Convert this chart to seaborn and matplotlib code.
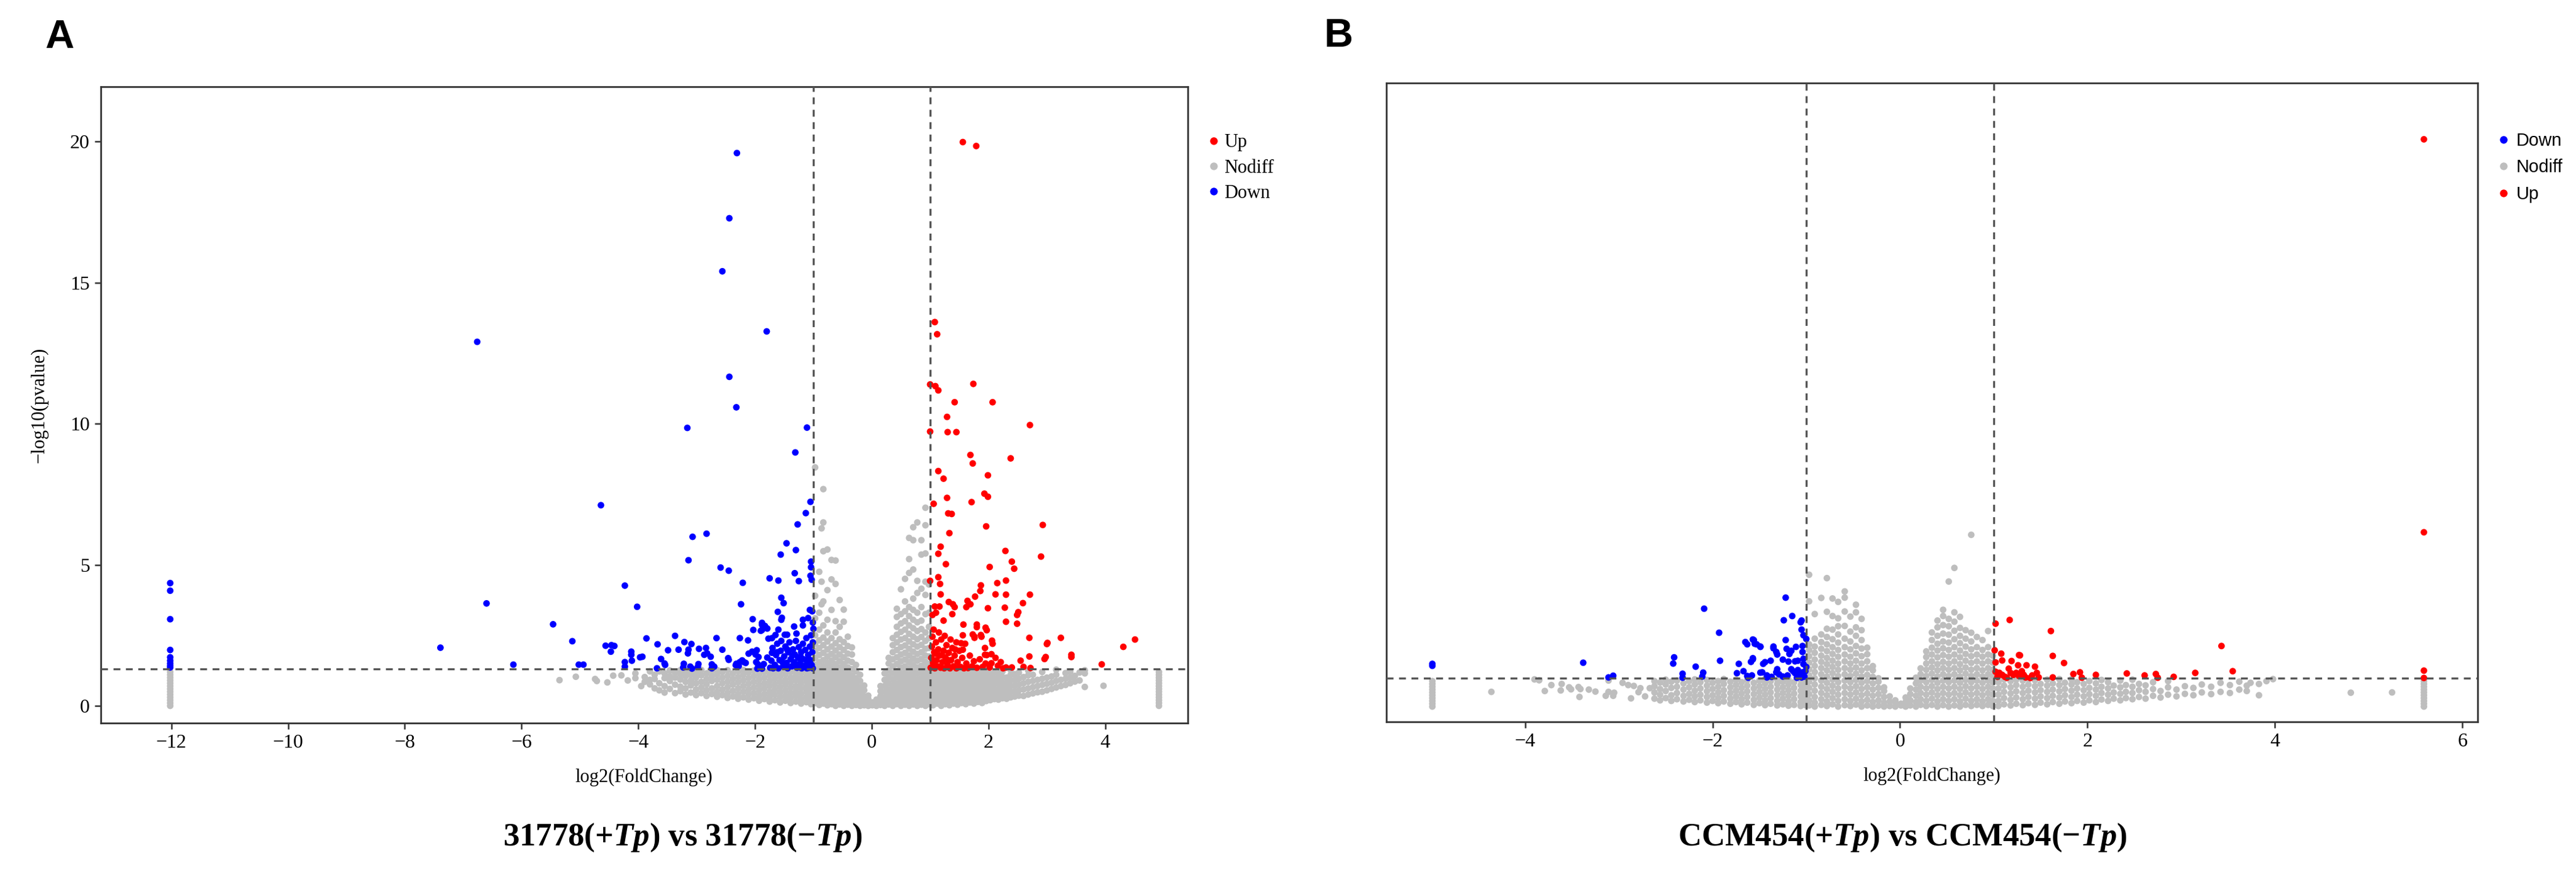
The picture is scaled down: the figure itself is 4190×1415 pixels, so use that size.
import numpy as np
import pandas as pd
import matplotlib
matplotlib.use("Agg")
import matplotlib.pyplot as plt
import seaborn as sns

# ---------------- panel A : 31778(+Tp) vs 31778(-Tp) ----------------
# significant points, (log2FoldChange, -log10 pvalue)
a_up = [
    (1.56, 19.98), (1.79, 19.84), (1.08, 13.6), (1.12, 13.17), (1.0, 11.39), (1.09, 11.33),
    (1.14, 11.18), (1.74, 11.41), (1.42, 10.76), (2.07, 10.76), (1.29, 10.24), (2.71, 9.95),
    (1.0, 9.72), (1.3, 9.7), (1.45, 9.7), (1.69, 8.89), (1.73, 8.59), (2.38, 8.77), (1.14, 8.32),
    (1.23, 8.05), (1.99, 8.17), (1.93, 7.52), (1.99, 7.41), (1.06, 7.16), (1.29, 7.37), (1.71, 7.22),
    (1.31, 6.82), (1.37, 6.8), (2.93, 6.41), (1.96, 6.36), (1.33, 6.12), (1.18, 5.64), (1.14, 5.39),
    (1.27, 5.02), (2.29, 5.49), (2.9, 5.29), (2.4, 5.11), (2.44, 4.86), (2.02, 4.92), (1.14, 4.56),
    (1.17, 4.32), (1.0, 4.43), (1.87, 4.27), (2.15, 4.35), (2.3, 4.44), (2.12, 3.95), (2.3, 3.94),
    (2.71, 3.94), (1.18, 3.95), (1.77, 3.87), (2.59, 3.64), (1.64, 3.72), (1.69, 3.6), (1.32, 3.68),
    (1.39, 3.6), (1.08, 3.52), (1.16, 3.52), (1.99, 3.46), (2.28, 3.48), (2.51, 3.32), (2.49, 3.22),
    (1.04, 3.22), (2.3, 2.98), (2.49, 2.91), (1.57, 2.88), (1.8, 2.88), (1.95, 2.77), (1.73, 2.53),
    (1.76, 2.41), (1.87, 2.51), (2.06, 2.31), (2.7, 2.41), (3.24, 2.41), (3.01, 2.23), (3.0, 2.19),
    (4.51, 2.35), (4.31, 2.09), (3.42, 1.81), (3.42, 1.73), (2.98, 1.73), (2.96, 1.66), (2.7, 1.75),
    (1.94, 1.81), (2.05, 1.83), (2.05, 1.51), (2.16, 1.42), (2.21, 1.55), (2.3, 1.36), (2.4, 1.36),
    (2.72, 1.34), (3.94, 1.47), (1.23, 3.02), (1.42, 3.5), (1.38, 3.25), (1.1, 3.3), (1.62, 3.5),
    (1.86, 4.07), (1.8, 2.79), (1.97, 2.68), (1.76, 2.45), (1.88, 2.45), (1.94, 2.05), (1.97, 1.8),
    (2.07, 2.2), (1.95, 1.5), (1.53, 2.22), (1.56, 1.99),
    (1.01, 1.35), (1.02, 1.7), (1.03, 2.1), (1.04, 2.45), (1.05, 1.52), (1.07, 1.9), (1.08, 1.33),
    (1.1, 2.25), (1.11, 1.62), (1.13, 1.4), (1.14, 2.0), (1.16, 1.78), (1.18, 1.35), (1.19, 2.35),
    (1.21, 1.55), (1.23, 1.95), (1.24, 1.33), (1.26, 1.72), (1.28, 2.15), (1.3, 1.45), (1.32, 1.88),
    (1.34, 1.33), (1.36, 1.62), (1.38, 2.05), (1.4, 1.4), (1.42, 1.78), (1.45, 1.33), (1.47, 1.55),
    (1.5, 1.95), (1.52, 1.38), (1.55, 1.7), (1.58, 1.33), (1.6, 2.2), (1.62, 1.5), (1.65, 1.34),
    (1.68, 1.78), (1.72, 1.4), (1.75, 1.58), (1.8, 1.35), (1.85, 1.65), (1.9, 1.38), (2.02, 1.36),
    (2.12, 1.7), (2.25, 1.33), (2.55, 1.6), (2.6, 1.38), (1.06, 2.7), (1.15, 2.6), (1.25, 2.48),
    (1.35, 2.35), (1.45, 2.25), (1.2, 1.8), (1.09, 1.85), (1.31, 1.62), (1.43, 2.0), (1.56, 2.5),
]
a_down = [
    (-12.02, 4.35), (-12.02, 4.08), (-12.02, 3.07), (-12.02, 1.98), (-12.02, 1.72), (-12.02, 1.6),
    (-12.02, 1.5), (-12.02, 1.42), (-12.02, 1.36), (-7.39, 2.06), (-6.76, 12.9), (-6.6, 3.63),
    (-6.14, 1.46), (-5.46, 2.89), (-5.13, 2.29), (-5.02, 1.46), (-4.94, 1.46), (-4.64, 7.11),
    (-4.56, 2.13), (-4.46, 2.15), (-4.41, 2.12), (-4.47, 1.92), (-4.23, 4.26), (-4.23, 1.55),
    (-4.23, 1.39), (-4.12, 1.92), (-4.12, 1.81), (-4.11, 1.6), (-4.02, 3.51), (-3.97, 1.72),
    (-3.93, 1.74), (-3.86, 2.39), (-3.67, 2.18), (-3.61, 1.66), (-3.55, 1.5), (-3.68, 1.33),
    (-3.49, 1.97), (-3.37, 2.48), (-3.31, 1.99), (-3.21, 2.26), (-3.09, 2.19), (-3.14, 1.99),
    (-3.22, 1.49), (-3.11, 1.39), (-2.96, 2.02), (-2.84, 2.05), (-2.97, 1.48), (-2.82, 1.86),
    (-2.74, 1.47), (-2.7, 1.39), (-2.66, 2.4), (-2.56, 1.99), (-2.46, 1.69), (-2.32, 1.49),
    (-2.26, 2.4), (-2.22, 1.61), (-2.19, 1.55), (-2.12, 2.32), (-2.11, 1.85), (-2.05, 1.92),
    (-1.98, 1.55), (-1.95, 1.47), (-1.89, 1.36), (-3.15, 1.86), (-2.87, 1.81), (-2.76, 1.74),
    (-3.54, 1.45), (-3.23, 1.36), (-3.08, 1.32), (-2.98, 1.38), (-2.74, 1.33), (-2.45, 1.63),
    (-2.33, 1.44), (-2.26, 1.55), (-2.28, 1.41), (-2.16, 1.52), (-1.97, 1.97), (-1.99, 1.82),
    (-1.94, 1.73), (-1.85, 1.48), (-1.96, 1.32), (-1.88, 1.32), (-1.79, 1.71), (-1.71, 1.88),
    (-3.07, 5.99), (-2.83, 6.1), (-3.14, 5.16), (-2.59, 4.9), (-2.45, 4.79), (-2.21, 4.36),
    (-2.24, 3.6), (-2.04, 3.07), (-1.75, 4.52), (-1.6, 4.44), (-1.56, 5.36), (-1.46, 5.76),
    (-1.3, 5.52), (-1.32, 4.7), (-1.25, 4.42), (-1.55, 3.83), (-1.51, 3.64), (-1.61, 3.33),
    (-1.54, 3.12), (-1.31, 8.98), (-1.05, 7.23), (-1.13, 6.83), (-1.27, 6.43), (-1.04, 5.11),
    (-1.04, 4.91), (-1.05, 4.61), (-1.03, 4.47), (-1.88, 2.94), (-1.83, 2.83), (-2.03, 2.69),
    (-1.88, 2.69), (-2.44, 11.66), (-2.32, 10.58), (-3.16, 9.85), (-1.11, 9.86), (-2.31, 19.59),
    (-2.44, 17.28), (-2.56, 15.4), (-1.8, 13.27),
    (-1.88, 2.87), (-1.9, 2.66), (-1.79, 2.74), (-1.55, 3.05), (-1.18, 3.05), (-1.09, 3.11),
    (-1.33, 2.81), (-1.18, 2.85), (-1.0, 2.73), (-1.6, 2.7), (-1.49, 2.52), (-1.45, 2.52),
    (-1.29, 2.56), (-1.77, 2.38), (-1.71, 2.4), (-1.65, 2.51),
    (-1.74, 1.35), (-1.72, 1.6), (-1.7, 2.05), (-1.66, 1.45), (-1.64, 1.8), (-1.62, 2.2),
    (-1.6, 1.33), (-1.58, 1.62), (-1.56, 1.95), (-1.55, 2.3), (-1.52, 1.4), (-1.5, 1.75),
    (-1.48, 2.1), (-1.46, 1.52), (-1.44, 1.33), (-1.43, 1.9), (-1.41, 2.25), (-1.39, 1.65),
    (-1.37, 1.4), (-1.35, 2.0), (-1.33, 1.55), (-1.32, 1.82), (-1.3, 2.3), (-1.28, 1.35),
    (-1.26, 1.7), (-1.25, 2.08), (-1.23, 1.5), (-1.21, 1.9), (-1.2, 1.33), (-1.18, 2.2),
    (-1.17, 1.65), (-1.15, 1.42), (-1.14, 1.98), (-1.12, 2.4), (-1.1, 1.55), (-1.09, 1.8),
    (-1.07, 1.35), (-1.06, 2.1), (-1.05, 1.62), (-1.03, 1.45), (-1.02, 1.9), (-1.01, 2.25),
    (-1.01, 1.33), (-1.69, 1.33), (-1.53, 1.55), (-1.36, 1.78), (-1.22, 1.75), (-1.08, 1.65),
    (-1.62, 1.9), (-1.45, 2.0), (-1.29, 1.45), (-1.11, 1.33), (-1.04, 2.5), (-1.02, 3.35),
    (-1.01, 2.95), (-1.06, 3.4),
]
# non significant points, one entry per log2FC column: (x, [y values])
a_nodiff = [
    (-12.02, [0.0, 0.1, 0.2, 0.3, 0.4, 0.5, 0.6, 0.7, 0.8, 0.9, 1.0, 1.1, 1.2]),
    (-5.35, [0.91]), (-5.07, [1.03]), (-4.74, [0.95]), (-4.71, [0.88]), (-4.53, [0.83]),
    (-4.43, [1.07]), (-4.29, [1.08]), (-4.18, [0.9]), (-4.05, [1.15, 0.98]), (-3.95, [0.7]),
    (-3.89, [1.02, 0.85]), (-3.8, [1.22, 0.92, 0.76]), (-3.72, [0.62, 0.95, 1.1]),
    (-3.64, [0.8, 0.55, 1.22]), (-3.55, [0.47, 0.7, 0.98, 1.15]), (-3.46, [0.6, 0.88, 1.05, 1.25]),
    (-3.37, [0.45, 0.75, 1.0, 1.18]), (-3.28, [0.52, 0.68, 0.93, 1.12, 1.26]),
    (-3.19, [0.4, 0.62, 0.85, 1.05, 1.2]), (-3.1, [0.47, 0.72, 0.9, 1.1, 1.25]),
    (-3.01, [0.38, 0.58, 0.8, 1.0, 1.18]), (-2.92, [0.45, 0.65, 0.85, 1.08, 1.27]),
    (-2.83, [0.35, 0.55, 0.76, 0.95, 1.15]), (-2.74, [0.42, 0.62, 0.88, 1.05, 1.24]),
    (-2.65, [0.32, 0.5, 0.7, 0.92, 1.12, 1.27]), (-2.56, [0.38, 0.58, 0.8, 1.0, 1.2]),
    (-2.47, [0.28, 0.46, 0.66, 0.86, 1.06, 1.26]), (-2.38, [0.33, 0.53, 0.75, 0.95, 1.15]),
    (-2.29, [0.25, 0.42, 0.62, 0.83, 1.02, 1.22]), (-2.2, [0.3, 0.5, 0.7, 0.9, 1.1, 1.27]),
    (-2.11, [0.22, 0.4, 0.58, 0.78, 0.98, 1.18]), (-2.02, [0.27, 0.45, 0.65, 0.85, 1.05, 1.25]),
    (-1.93, [0.18, 0.36, 0.55, 0.74, 0.93, 1.12, 1.28]), (-1.84, [0.24, 0.42, 0.62, 0.8, 1.0, 1.2]),
    (-1.75, [0.15, 0.32, 0.5, 0.7, 0.88, 1.08, 1.26]), (-1.66, [0.2, 0.4, 0.58, 0.77, 0.96, 1.15]),
    (-1.57, [0.12, 0.3, 0.48, 0.66, 0.85, 1.04, 1.23]),
    (-1.48, [0.18, 0.36, 0.55, 0.74, 0.92, 1.12, 1.28]),
    (-1.39, [0.1, 0.28, 0.45, 0.64, 0.82, 1.0, 1.2]),
    (-1.3, [0.15, 0.34, 0.52, 0.7, 0.9, 1.08, 1.26]),
    (-1.21, [0.08, 0.25, 0.43, 0.62, 0.8, 0.98, 1.17]),
    (-1.12, [0.13, 0.31, 0.5, 0.68, 0.87, 1.05, 1.24]),
    (-1.04, [0.06, 0.22, 0.4, 0.58, 0.77, 0.95, 1.14]),
    (-0.97, [0.1, 0.28, 0.47, 0.66, 0.85, 1.03, 1.22, 1.45, 1.7, 1.95, 2.2, 2.5, 3.1, 3.9, 8.45]),
    (-0.9, [0.03, 0.2, 0.38, 0.56, 0.75, 0.94, 1.12, 1.32, 1.55, 1.8, 2.05, 2.32, 2.7, 3.3, 4.75]),
    (-0.86, [6.29, 4.4, 3.6]),
    (-0.83, [0.08, 0.26, 0.44, 0.63, 0.82, 1.0, 1.2, 1.4, 1.62, 1.88, 2.15, 2.42, 2.85, 3.7,
             5.48, 6.5, 7.68]),
    (-0.76, [0.02, 0.18, 0.36, 0.55, 0.73, 0.92, 1.1, 1.3, 1.52, 1.75, 2.0, 2.28, 2.6, 3.05,
             4.1, 5.54]),
    (-0.69, [0.06, 0.24, 0.42, 0.6, 0.8, 0.98, 1.17, 1.38, 1.6, 1.84, 2.1, 2.4, 3.4, 4.48, 5.17]),
    (-0.62, [0.0, 0.16, 0.34, 0.52, 0.7, 0.88, 1.07, 1.26, 1.48, 1.72, 1.96, 2.22, 2.6, 3.0,
             4.32, 5.15]),
    (-0.55, [0.05, 0.22, 0.4, 0.58, 0.76, 0.95, 1.14, 1.35, 1.58, 1.82, 2.08, 2.36, 2.8, 3.75]),
    (-0.48, [0.0, 0.14, 0.32, 0.5, 0.68, 0.87, 1.06, 1.26, 1.48, 1.72, 1.98, 2.26, 2.98, 3.41]),
    (-0.41, [0.04, 0.2, 0.38, 0.56, 0.75, 0.94, 1.14, 1.36, 1.6, 1.85, 2.12, 2.45]),
    (-0.34, [0.0, 0.12, 0.3, 0.48, 0.67, 0.87, 1.08, 1.3, 1.55, 1.82, 2.07]),
    (-0.27, [0.03, 0.18, 0.36, 0.55, 0.76, 0.98, 1.22, 1.45]),
    (-0.2, [0.0, 0.1, 0.27, 0.46, 0.66, 0.88, 1.1]),
    (-0.13, [0.02, 0.16, 0.34, 0.55, 0.72]),
    (-0.06, [0.0, 0.1, 0.25, 0.36]),
    (0.01, [0.02, 0.12]),
    (0.08, [0.0, 0.1, 0.22]),
    (0.15, [0.03, 0.16, 0.34, 0.52, 0.7]),
    (0.22, [0.0, 0.12, 0.3, 0.5, 0.7, 0.92, 1.15]),
    (0.29, [0.05, 0.2, 0.38, 0.58, 0.8, 1.02, 1.25, 1.5, 1.7]),
    (0.36, [0.0, 0.14, 0.32, 0.52, 0.72, 0.94, 1.16, 1.4, 1.65, 1.9, 2.15, 2.4]),
    (0.43, [0.06, 0.22, 0.4, 0.6, 0.8, 1.02, 1.24, 1.48, 1.72, 1.98, 2.25, 2.52, 2.8, 3.15, 3.44]),
    (0.5, [0.0, 0.15, 0.33, 0.52, 0.72, 0.92, 1.13, 1.35, 1.58, 1.82, 2.08, 2.35, 2.62, 2.92,
           3.25, 4.13]),
    (0.57, [0.04, 0.2, 0.38, 0.57, 0.77, 0.97, 1.18, 1.4, 1.64, 1.88, 2.14, 2.4, 2.7, 3.0, 3.35,
            3.7, 4.5]),
    (0.64, [0.0, 0.14, 0.32, 0.5, 0.7, 0.9, 1.1, 1.32, 1.55, 1.78, 2.02, 2.28, 2.55, 2.85, 3.18,
            3.5, 4.71, 5.2, 5.95]),
    (0.71, [0.05, 0.22, 0.4, 0.6, 0.8, 1.0, 1.22, 1.45, 1.68, 1.92, 2.18, 2.45, 2.75, 3.05, 3.4,
            3.8, 4.83, 5.87, 6.33]),
    (0.78, [0.0, 0.16, 0.34, 0.53, 0.73, 0.93, 1.14, 1.36, 1.6, 1.84, 2.1, 2.36, 2.65, 2.96, 3.3,
            4.0, 4.43, 6.5]),
    (0.85, [0.04, 0.2, 0.38, 0.58, 0.78, 0.98, 1.2, 1.42, 1.66, 1.9, 2.16, 2.44, 2.72, 3.02, 3.5,
            4.15, 5.36, 5.87]),
    (0.92, [0.0, 0.14, 0.32, 0.5, 0.7, 0.9, 1.1, 1.32, 1.55, 1.78, 2.02, 2.3, 2.6, 3.25, 3.93,
            4.4, 5.4, 6.4, 7.02]),
    (0.98, [0.06, 0.24, 0.42, 0.62, 0.82, 1.02, 1.22, 1.48, 1.75, 2.05, 2.4, 2.8, 3.3, 4.3]),
    (1.05, [0.02, 0.18, 0.36, 0.54, 0.72, 0.9, 1.08, 1.26]),
    (1.12, [0.08, 0.26, 0.44, 0.62, 0.8, 0.98, 1.16]),
    (1.19, [0.0, 0.14, 0.32, 0.5, 0.68, 0.86, 1.04, 1.22]),
    (1.26, [0.06, 0.22, 0.4, 0.58, 0.77, 0.95, 1.13]),
    (1.33, [0.02, 0.16, 0.34, 0.52, 0.7, 0.88, 1.06, 1.25]),
    (1.4, [0.08, 0.26, 0.44, 0.62, 0.8, 0.98, 1.17]),
    (1.47, [0.04, 0.2, 0.38, 0.56, 0.74, 0.92, 1.1, 1.27]),
    (1.54, [0.1, 0.28, 0.46, 0.64, 0.82, 1.0, 1.19]),
    (1.61, [0.06, 0.22, 0.4, 0.58, 0.76, 0.94, 1.12]),
    (1.68, [0.12, 0.3, 0.48, 0.66, 0.84, 1.02, 1.22]),
    (1.75, [0.08, 0.25, 0.43, 0.61, 0.8, 0.98, 1.16]),
    (1.82, [0.14, 0.32, 0.5, 0.68, 0.86, 1.05, 1.25]),
    (1.89, [0.1, 0.27, 0.45, 0.63, 0.82, 1.0, 1.18]),
    (1.96, [0.17, 0.35, 0.53, 0.71, 0.9, 1.08, 1.27]),
    (2.03, [0.2, 0.38, 0.56, 0.75, 0.94, 1.13]),
    (2.1, [0.24, 0.42, 0.6, 0.79, 0.98, 1.18]),
    (2.17, [0.22, 0.4, 0.58, 0.77, 0.96, 1.15]),
    (2.24, [0.27, 0.45, 0.64, 0.83, 1.02, 1.22]),
    (2.31, [0.25, 0.43, 0.62, 0.81, 1.0]),
    (2.38, [0.3, 0.5, 0.7, 0.9, 1.1, 1.27]),
    (2.45, [0.33, 0.52, 0.72, 0.92, 1.12]),
    (2.52, [0.36, 0.55, 0.75, 0.96, 1.18]),
    (2.6, [0.35, 0.58, 0.8, 1.02]),
    (2.68, [0.4, 0.62, 0.85, 1.08, 1.25]),
    (2.76, [0.44, 0.66, 0.88, 1.1]),
    (2.84, [0.48, 0.7, 0.92]),
    (2.92, [0.5, 0.74, 0.96, 1.2]),
    (3.0, [0.55, 0.78, 1.0]),
    (3.08, [0.6, 0.82, 1.04]),
    (3.16, [0.65, 0.88, 1.1, 1.28]),
    (3.24, [0.7, 0.92]),
    (3.32, [0.74, 0.96, 1.16]),
    (3.4, [0.8, 1.0, 1.2]),
    (3.48, [0.86, 1.06]),
    (3.56, [0.9, 1.18]),
    (3.65, [0.67, 1.15, 1.26]),
    (3.97, [0.71]),
    (4.92, [0.0, 0.1, 0.2, 0.3, 0.4, 0.5, 0.6, 0.7, 0.8, 0.9, 1.0, 1.1, 1.2]),
]

# ---------------- panel B : CCM454(+Tp) vs CCM454(-Tp) ----------------
b_down = [
    (-4.99, 1.51), (-4.99, 1.44), (-3.38, 1.55), (-3.11, 1.03), (-3.06, 1.09), (-2.41, 1.74),
    (-2.42, 1.52), (-2.32, 1.16), (-2.32, 1.02), (-2.18, 1.41), (-2.09, 3.46), (-2.1, 1.2),
    (-2.11, 1.06), (-1.93, 2.61), (-1.92, 1.62), (-1.65, 2.28), (-1.63, 2.2), (-1.57, 2.37),
    (-1.53, 2.2), (-1.49, 2.12), (-1.72, 1.51), (-1.59, 1.58), (-1.57, 1.67), (-1.46, 1.51),
    (-1.74, 1.18), (-1.67, 1.25), (-1.63, 1.08), (-1.62, 1.02), (-1.49, 1.2), (-1.35, 2.06),
    (-1.31, 1.84), (-1.22, 3.85), (-1.24, 3.05), (-1.15, 3.2), (-1.06, 2.98), (-1.05, 3.04),
    (-1.05, 2.72), (-1.03, 2.52), (-1.0, 2.39), (-1.22, 2.35), (-1.56, 2.35), (-1.55, 2.22),
    (-1.49, 2.11), (-1.35, 2.12), (-1.21, 2.04), (-1.16, 1.97), (-1.11, 2.11), (-1.04, 2.14),
    (-1.32, 1.93), (-1.18, 1.86), (-1.04, 1.93), (-1.57, 1.71), (-1.44, 1.57), (-1.38, 1.62),
    (-1.25, 1.66), (-1.19, 1.59), (-1.12, 1.6), (-1.09, 1.62), (-1.03, 1.69), (-1.47, 1.21),
    (-1.42, 1.1), (-1.42, 1.03), (-1.31, 1.32), (-1.32, 1.21), (-1.29, 1.14), (-1.25, 1.06),
    (-1.16, 1.32), (-1.14, 1.25), (-1.12, 1.18), (-1.09, 1.29), (-1.07, 1.14), (-1.04, 1.21),
    (-1.02, 1.06), (-1.05, 1.03), (-1.58, 1.1), (-1.37, 1.05), (-1.2, 1.1), (-1.1, 1.02),
    (-1.01, 1.25), (-1.0, 1.4), (-1.03, 1.5),
]
b_up = [
    (1.02, 2.93), (1.17, 3.06), (1.61, 2.67), (1.63, 1.79), (1.01, 1.99), (1.08, 1.87),
    (1.27, 1.82), (1.02, 1.56), (1.09, 1.63), (1.19, 1.61), (1.26, 1.46), (1.35, 1.46),
    (1.44, 1.41), (1.02, 1.23), (1.06, 1.19), (1.09, 1.12), (1.12, 1.05), (1.16, 1.34),
    (1.18, 1.19), (1.21, 1.12), (1.24, 1.19), (1.27, 1.08), (1.32, 1.12), (1.34, 1.03),
    (1.39, 1.01), (1.46, 1.19), (1.48, 1.03), (1.63, 1.03), (1.75, 1.54), (1.85, 1.15),
    (1.92, 1.21), (1.94, 1.02), (2.09, 1.12), (2.42, 1.17), (2.61, 1.1), (2.73, 1.15),
    (2.75, 1.02), (2.92, 1.05), (3.15, 1.19), (3.55, 1.25), (3.43, 2.14), (5.59, 20.05),
    (5.59, 6.16), (5.59, 1.27), (5.59, 1.01), (1.04, 1.05), (1.14, 1.02), (1.3, 1.25),
    (1.41, 1.1), (1.28, 1.81),
]
b_nodiff = [
    (-4.99, [0.0, 0.1, 0.2, 0.3, 0.4, 0.5, 0.6, 0.7, 0.8, 0.9]),
    (-4.36, [0.52]), (-3.9, [0.96]), (-3.85, [0.93]), (-3.79, [0.55]), (-3.72, [0.76]),
    (-3.61, [0.8]), (-3.62, [0.57]), (-3.53, [0.68]), (-3.51, [0.61]), (-3.43, [0.69]),
    (-3.42, [0.34]), (-3.41, [0.62]), (-3.32, [0.6]), (-3.25, [0.53]), (-3.14, [0.38]),
    (-3.11, [0.92, 0.52]), (-3.06, [0.38]), (-3.05, [0.49]), (-2.96, [0.84]), (-2.9, [0.76]),
    (-2.84, [0.73]), (-2.87, [0.29]), (-2.79, [0.51]), (-2.77, [0.65]), (-2.72, [0.36]),
    (-2.67, [0.65]),
    (-2.62, [0.28, 0.5, 0.72, 0.9]), (-2.56, [0.22, 0.42, 0.62, 0.85]),
    (-2.5, [0.3, 0.55, 0.78, 0.95]), (-2.44, [0.2, 0.4, 0.66, 0.88]),
    (-2.38, [0.26, 0.48, 0.7, 0.92]), (-2.31, [0.18, 0.38, 0.6, 0.82]),
    (-2.25, [0.24, 0.45, 0.68, 0.9]), (-2.19, [0.16, 0.36, 0.56, 0.78, 0.96]),
    (-2.13, [0.22, 0.42, 0.64, 0.86]), (-2.06, [0.14, 0.34, 0.54, 0.74, 0.94]),
    (-2.0, [0.2, 0.4, 0.62, 0.84]), (-1.94, [0.12, 0.3, 0.5, 0.7, 0.9]),
    (-1.88, [0.18, 0.38, 0.58, 0.8, 0.97]), (-1.81, [0.1, 0.28, 0.48, 0.68, 0.88]),
    (-1.75, [0.16, 0.36, 0.56, 0.76, 0.95]), (-1.69, [0.08, 0.26, 0.46, 0.66, 0.86]),
    (-1.63, [0.14, 0.34, 0.54, 0.74, 0.93]), (-1.56, [0.06, 0.24, 0.44, 0.64, 0.84]),
    (-1.5, [0.12, 0.32, 0.52, 0.72, 0.92]), (-1.44, [0.05, 0.22, 0.42, 0.62, 0.82, 0.97]),
    (-1.38, [0.1, 0.3, 0.5, 0.7, 0.9]), (-1.31, [0.04, 0.2, 0.4, 0.6, 0.8, 0.96]),
    (-1.25, [0.08, 0.28, 0.48, 0.68, 0.88]), (-1.19, [0.03, 0.18, 0.38, 0.58, 0.78, 0.95]),
    (-1.13, [0.06, 0.26, 0.46, 0.66, 0.86]), (-1.06, [0.02, 0.16, 0.36, 0.56, 0.76, 0.94]),
    (-1.01, [0.05, 0.25, 0.45, 0.65, 0.85]),
    (-0.97, [0.04, 0.22, 0.44, 0.66, 0.88, 1.1, 1.32, 1.55, 1.78, 2.0, 2.2, 3.72, 4.66]),
    (-0.91, [0.0, 0.14, 0.34, 0.56, 0.78, 1.0, 1.22, 1.44, 1.66, 1.9, 2.12, 2.4, 3.27]),
    (-0.84, [0.06, 0.26, 0.48, 0.7, 0.92, 1.14, 1.36, 1.58, 1.8, 2.04, 2.28, 2.55, 3.84]),
    (-0.78, [0.02, 0.18, 0.4, 0.62, 0.84, 1.06, 1.28, 1.5, 1.72, 1.96, 2.2, 2.46, 2.75, 3.35,
             4.54]),
    (-0.72, [0.08, 0.3, 0.52, 0.74, 0.96, 1.18, 1.4, 1.62, 1.86, 2.1, 2.38, 2.72, 3.2, 3.82]),
    (-0.66, [0.0, 0.2, 0.42, 0.64, 0.86, 1.08, 1.3, 1.52, 1.76, 2.0, 2.26, 2.55, 2.84, 3.12,
             3.7]),
    (-0.59, [0.05, 0.26, 0.48, 0.7, 0.92, 1.14, 1.36, 1.6, 1.84, 2.1, 2.4, 2.85, 3.36, 3.85,
             4.07]),
    (-0.53, [0.02, 0.2, 0.42, 0.64, 0.86, 1.08, 1.3, 1.52, 1.76, 2.02, 2.3, 2.65, 3.18]),
    (-0.47, [0.07, 0.28, 0.5, 0.72, 0.94, 1.16, 1.38, 1.62, 1.88, 2.14, 2.5, 2.8, 3.33, 3.6]),
    (-0.41, [0.0, 0.18, 0.4, 0.62, 0.84, 1.06, 1.28, 1.52, 1.78, 2.05, 2.35, 2.7, 3.1]),
    (-0.35, [0.04, 0.24, 0.46, 0.68, 0.9, 1.12, 1.36, 1.6, 1.85, 2.08]),
    (-0.29, [0.0, 0.16, 0.38, 0.6, 0.82, 1.05, 1.28, 1.43]),
    (-0.23, [0.03, 0.22, 0.44, 0.66, 0.88, 1.0]),
    (-0.17, [0.0, 0.14, 0.34, 0.55, 0.68]),
    (-0.11, [0.02, 0.18, 0.36]),
    (-0.05, [0.0, 0.14, 0.22]),
    (0.01, [0.04, 0.1]),
    (0.06, [0.0, 0.16, 0.32]),
    (0.11, [0.04, 0.22, 0.44, 0.64]),
    (0.17, [0.0, 0.16, 0.38, 0.6, 0.82, 1.02]),
    (0.22, [0.06, 0.26, 0.48, 0.7, 0.92, 1.14, 1.35]),
    (0.28, [0.02, 0.2, 0.42, 0.64, 0.86, 1.08, 1.3, 1.52, 1.75, 1.95]),
    (0.34, [0.06, 0.28, 0.5, 0.72, 0.94, 1.16, 1.38, 1.6, 1.84, 2.08, 2.35, 2.62]),
    (0.4, [0.0, 0.18, 0.4, 0.62, 0.84, 1.06, 1.28, 1.5, 1.74, 1.98, 2.22, 2.5, 2.8, 3.04]),
    (0.46, [0.05, 0.26, 0.48, 0.7, 0.92, 1.14, 1.36, 1.58, 1.82, 2.06, 2.3, 2.58, 2.88, 3.2,
            3.42]),
    (0.52, [0.0, 0.2, 0.42, 0.64, 0.86, 1.08, 1.3, 1.52, 1.76, 2.0, 2.26, 2.54, 2.84, 3.1, 4.42]),
    (0.58, [0.04, 0.26, 0.48, 0.7, 0.92, 1.14, 1.36, 1.6, 1.84, 2.1, 2.38, 2.68, 3.0, 3.33, 4.9]),
    (0.64, [0.0, 0.18, 0.4, 0.62, 0.84, 1.06, 1.28, 1.5, 1.74, 1.98, 2.24, 2.5, 2.78, 3.17]),
    (0.7, [0.06, 0.28, 0.5, 0.72, 0.94, 1.16, 1.38, 1.62, 1.86, 2.12, 2.4, 2.7]),
    (0.76, [0.02, 0.2, 0.42, 0.64, 0.86, 1.08, 1.3, 1.54, 1.78, 2.02, 2.3, 2.61, 6.07]),
    (0.82, [0.06, 0.26, 0.48, 0.7, 0.92, 1.14, 1.36, 1.6, 1.84, 2.1, 2.46]),
    (0.88, [0.02, 0.18, 0.4, 0.62, 0.84, 1.06, 1.28, 1.52, 1.76, 2.0, 2.35]),
    (0.94, [0.06, 0.26, 0.48, 0.7, 0.92, 1.14, 1.36, 1.6, 1.84, 2.1, 2.67]),
    (0.99, [0.02, 0.2, 0.42, 0.64, 0.86, 1.08, 1.3, 1.55, 1.8]),
    (1.05, [0.02, 0.2, 0.42, 0.64, 0.86]), (1.11, [0.08, 0.3, 0.52, 0.74, 0.96]),
    (1.18, [0.04, 0.24, 0.46, 0.68, 0.9]), (1.24, [0.1, 0.32, 0.54, 0.76, 0.95]),
    (1.31, [0.05, 0.26, 0.48, 0.7, 0.92]), (1.37, [0.12, 0.34, 0.56, 0.78, 0.97]),
    (1.44, [0.06, 0.28, 0.5, 0.72, 0.93]), (1.5, [0.14, 0.36, 0.58, 0.8]),
    (1.57, [0.08, 0.3, 0.52, 0.74, 0.95]), (1.63, [0.16, 0.38, 0.6, 0.82]),
    (1.7, [0.1, 0.32, 0.54, 0.76, 0.97]), (1.76, [0.18, 0.4, 0.62, 0.84]),
    (1.83, [0.12, 0.34, 0.56, 0.78, 0.96]), (1.89, [0.2, 0.42, 0.64, 0.86]),
    (1.96, [0.14, 0.36, 0.58, 0.8]), (2.02, [0.22, 0.44, 0.66, 0.9]),
    (2.09, [0.16, 0.38, 0.6, 0.82]), (2.15, [0.25, 0.48, 0.7, 0.94]),
    (2.22, [0.2, 0.42, 0.64, 0.86]), (2.28, [0.28, 0.5, 0.74]),
    (2.35, [0.22, 0.45, 0.68, 0.92]), (2.41, [0.3, 0.52, 0.76]),
    (2.48, [0.26, 0.48, 0.7, 0.95]), (2.55, [0.34, 0.58, 0.8]),
    (2.62, [0.28, 0.52, 0.75]), (2.7, [0.38, 0.62, 0.86]), (2.78, [0.32, 0.55]),
    (2.86, [0.42, 0.68, 0.9]), (2.95, [0.36, 0.6]), (3.04, [0.45, 0.72]), (3.13, [0.4, 0.66]),
    (3.22, [0.5, 0.78]), (3.32, [0.44, 0.7]), (3.42, [0.52, 0.84]), (3.52, [0.48, 0.76]),
    (3.62, [0.6, 0.88]), (3.7, [0.55, 0.74]), (3.74, [0.84]), (3.83, [0.4, 0.8]),
    (3.91, [0.9]), (3.98, [0.97]), (4.81, [0.49]), (5.25, [0.5]),
    (5.59, [0.0, 0.1, 0.2, 0.3, 0.4, 0.5, 0.6, 0.7, 0.8, 0.9]),
]

palette = {"Up": "#FF0000", "Nodiff": "#BEBEBE", "Down": "#0000FF"}
dash_grey = "#555555"
frame_grey = "#333333"

plt.rcParams["font.family"] = ["Liberation Serif", "DejaVu Serif"]
plt.rcParams["mathtext.fontset"] = "custom"
plt.rcParams["mathtext.rm"] = "Liberation Serif:bold"
plt.rcParams["mathtext.it"] = "Liberation Serif:italic:bold"
plt.rcParams["lines.scale_dashes"] = False


def to_frame(nodiff, down, up):
    rows = [(x, y, "Nodiff") for x, ys in nodiff for y in ys]
    rows += [(x, y, "Down") for x, y in down]
    rows += [(x, y, "Up") for x, y in up]
    return pd.DataFrame(rows, columns=["log2FoldChange", "logp", "group"])


def volcano(ax, df, hue_order, thr, xlim, ylim, xticks, leg_anchor, leg_prop, leg_pad, leg_space):
    sns.scatterplot(data=df, x="log2FoldChange", y="logp", hue="group", hue_order=hue_order,
                    palette=palette, s=60, linewidth=0, ax=ax, zorder=2)
    for v in (-1, 1):
        ax.axvline(v, color=dash_grey, lw=2.4, ls=(0, (8.0, 6.5)), zorder=3)
    ax.axhline(thr, color=dash_grey, lw=2.4, ls=(0, (8.0, 6.5)), zorder=3)
    ax.set_xlim(*xlim)
    ax.set_ylim(*ylim)
    ax.set_xticks(xticks)
    for sp in ax.spines.values():
        sp.set_color(frame_grey)
        sp.set_linewidth(2.0)
    ax.tick_params(axis="both", direction="out", length=7, width=1.8, color=frame_grey,
                   labelsize=23, pad=6)
    ax.set_xlabel("log2(FoldChange)", fontsize=22)
    ax.xaxis.set_label_coords(0.5, -0.071)
    sns.move_legend(ax, "upper left", bbox_to_anchor=leg_anchor, frameon=False, title=None,
                    prop=leg_prop, handlelength=0.6, handletextpad=leg_pad,
                    labelspacing=leg_space, borderpad=0, borderaxespad=0, markerscale=1.15)


fig = plt.figure(figsize=(41.9, 14.15), dpi=100)
ax_a = fig.add_axes([0.0391, 0.1686, 0.4219, 0.7320])
ax_b = fig.add_axes([0.5382, 0.1703, 0.4235, 0.7343])

volcano(ax_a, to_frame(a_nodiff, a_down, a_up), ["Up", "Nodiff", "Down"], 1.301,
        (-13.21, 5.41), (-0.62, 21.95), range(-12, 5, 2), (1.019, 0.926),
        {"family": "Liberation Serif", "size": 22}, 0.25, 0.40)
ax_a.set_yticks([0, 5, 10, 15, 20])
ax_a.set_ylabel("\u2212log10(pvalue)", fontsize=22)
ax_a.yaxis.set_label_coords(-0.048, 0.5)

volcano(ax_b, to_frame(b_nodiff, b_down, b_up), ["Down", "Nodiff", "Up"], 1.0,
        (-5.48, 6.16), (-0.54, 22.04), range(-4, 7, 2), (1.019, 0.923),
        {"family": "Liberation Sans", "size": 21}, 0.4, 0.53)
ax_b.set_ylabel("")
ax_b.tick_params(axis="y", left=False, labelleft=False)

# panel letters and comparison titles
fig.text(0.0174, 1 - 78 / 1415, "A", fontsize=47, fontweight="bold",
         family="Liberation Sans", ha="left", va="baseline")
fig.text(0.5139, 1 - 76 / 1415, "B", fontsize=47, fontweight="bold",
         family="Liberation Sans", ha="left", va="baseline")
fig.text(1110 / 4190, 1 - 1375 / 1415, "31778(+$Tp$) vs 31778(\u2212$Tp$)", fontsize=38,
         fontweight="bold", ha="center", va="baseline")
fig.text(3094 / 4190, 1 - 1375 / 1415, "CCM454(+$Tp$) vs CCM454(\u2212$Tp$)", fontsize=38,
         fontweight="bold", ha="center", va="baseline")

fig.savefig("out.png", dpi=100, facecolor="white")
